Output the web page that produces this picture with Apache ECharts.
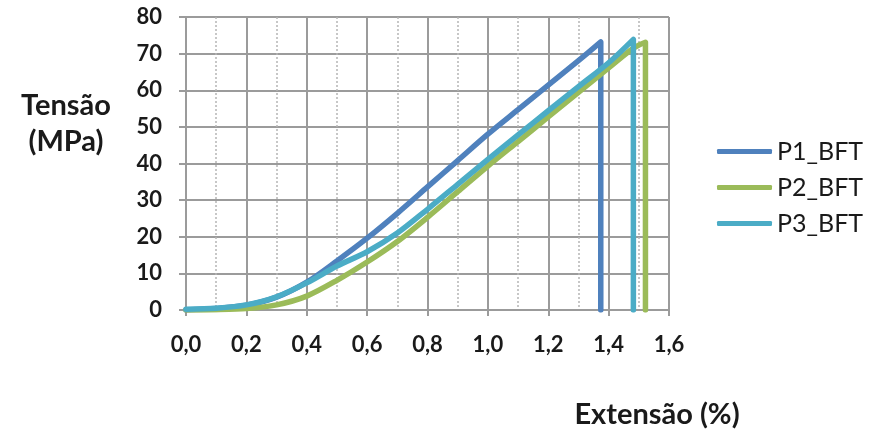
<!DOCTYPE html>
<html><head><meta charset="utf-8">
<script src="https://cdn.jsdelivr.net/npm/echarts@6/dist/echarts.min.js"></script>
<style>html,body{margin:0;padding:0;background:#fff}#c{width:869px;height:437px}</style>
</head><body><div id="c"></div>
<script>
const seriesNames = ['P1_BFT', 'P2_BFT', 'P3_BFT'];
const p1X = [0, 0.1, 0.2, 0.3, 0.4, 0.5, 0.6, 0.7, 0.8, 0.9, 1.0, 1.1, 1.2, 1.3, 1.374, 1.374];
const p1Y = [0, 0.4, 1.3, 3.5, 7.6, 13.4, 19.6, 26.4, 33.6, 40.8, 48.0, 54.7, 61.4, 68.1, 73.2, 0];
const p2X = [0, 0.1, 0.2, 0.3, 0.4, 0.5, 0.6, 0.7, 0.8, 0.9, 1.0, 1.1, 1.2, 1.3, 1.4, 1.47, 1.5, 1.522, 1.522];
const p2Y = [0, 0.1, 0.4, 1.4, 3.8, 8.1, 13.1, 18.7, 25.3, 32.3, 39.3, 46.0, 52.7, 59.4, 66.1, 70.8, 72.3, 73.1, 0];
const p3X = [0, 0.1, 0.2, 0.3, 0.4, 0.5, 0.6, 0.7, 0.8, 0.9, 1.0, 1.1, 1.2, 1.3, 1.4, 1.482, 1.482];
const p3Y = [0.2, 0.5, 1.4, 3.6, 7.4, 12.0, 15.9, 21.0, 27.5, 34.3, 41.1, 47.8, 54.4, 61.0, 67.5, 73.9, 0];
const yTitle = ['Tensão', '(MPa)'];
const xTitle = 'Extensão (%)';
const colors = ['#4F81BD', '#9BBB59', '#4BACC6'];

const pair = (xs, ys) => xs.map((x, i) => [x, ys[i]]);
const dataSets = [pair(p1X, p1Y), pair(p2X, p2Y), pair(p3X, p3Y)];
const FONT = 'Lato';
const gridColor = '#9b9b9b';

const chart = echarts.init(document.getElementById('c'), null, {renderer: 'canvas'});
chart.setOption({
  animation: false,
  color: colors,
  grid: {left: 186, right: 200, top: 17, bottom: 127, containLabel: false},
  xAxis: {
    type: 'value', min: 0, max: 1.6, interval: 0.2,
    axisLine: {show: true, lineStyle: {color: gridColor, width: 2}},
    axisTick: {show: true, length: 6, lineStyle: {color: gridColor, width: 2}},
    axisLabel: {margin: 24, color: '#1a1a1a', fontFamily: FONT, fontWeight: 'bold', fontSize: 22,
      formatter: v => v.toFixed(1).replace('.', ',')},
    splitLine: {show: true, lineStyle: {color: gridColor, width: 2}},
    minorTick: {show: false, splitNumber: 2},
    minorSplitLine: {show: true, lineStyle: {color: '#b5b5b5', width: 1.5, type: [2, 2]}}
  },
  yAxis: {
    type: 'value', min: 0, max: 80, interval: 10,
    axisLine: {show: true, lineStyle: {color: gridColor, width: 2}},
    axisTick: {show: true, length: 7, lineStyle: {color: gridColor, width: 2}},
    axisLabel: {margin: 24, color: '#1a1a1a', fontFamily: FONT, fontWeight: 'bold', fontSize: 22},
    splitLine: {show: true, lineStyle: {color: gridColor, width: 2}}
  },
  legend: {
    orient: 'vertical', left: 717, top: 139, padding: 0, itemWidth: 55, itemHeight: 5, itemGap: 11,
    icon: 'roundRect',
    textStyle: {color: '#1a1a1a', fontFamily: FONT, fontSize: 25, lineHeight: 24},
    data: seriesNames
  },
  series: seriesNames.map((n, i) => ({
    name: n, type: 'line', data: dataSets[i], showSymbol: false, symbol: 'none',
    smooth: 0.3,
    lineStyle: {width: 5.5, color: colors[i], cap: 'round', join: 'round'},
    itemStyle: {color: colors[i]}, z: 2 + i
  })),
  graphic: [
    {type: 'text', style: {text: yTitle[0], x: 66, y: 106, textAlign: 'center', textVerticalAlign: 'middle', fill: '#1a1a1a', font: 'bold 29px ' + FONT}},
    {type: 'text', style: {text: yTitle[1], x: 66, y: 142, textAlign: 'center', textVerticalAlign: 'middle', fill: '#1a1a1a', font: 'bold 29px ' + FONT}},
    {type: 'text', style: {text: xTitle, x: 657, y: 415, textAlign: 'center', textVerticalAlign: 'middle', fill: '#1a1a1a', font: 'bold 29px ' + FONT}}
  ]
});
</script></body></html>
